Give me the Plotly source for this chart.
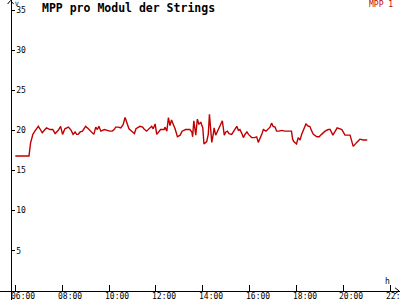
import plotly.graph_objects as go

# ---- data ----
series_name = "MPP 1"
title_text = "MPP pro Modul der Strings"
y_unit = "V"
x_unit = "h"
times = ["06:00","06:35","06:39","06:45","06:50","06:59","07:03","07:09","07:16","07:20",
         "07:29","07:36","07:42","07:50","07:56","08:01","08:07","08:16","08:23","08:28",
         "08:33","08:37","08:41","08:46","08:52","09:00","09:07","09:16","09:21","09:26",
         "09:30","09:34","09:39","09:48","09:54","10:02","10:08","10:13","10:17","10:24",
         "10:30","10:36","10:41","10:45","10:51","10:58","11:05","11:09","11:15","11:19",
         "11:26","11:29","11:36","11:42","11:49","11:53","11:58","12:02","12:08","12:12",
         "12:21","12:23","12:28","12:32","12:36","12:40","12:44","12:49","12:55","13:02",
         "13:07","13:16","13:27","13:32","13:34","13:37","13:42","13:46","13:50","13:55",
         "14:00","14:03","14:10","14:14","14:17","14:20","14:23","14:27","14:29","14:33",
         "14:37","14:41","14:46","14:50","14:55","14:59","15:03","15:07","15:14","15:20",
         "15:27","15:31","15:35","15:40","15:44","15:48","15:53","15:57","16:05","16:12",
         "16:18","16:22","16:26","16:31","16:35","16:42","16:52","16:56","17:00","17:05",
         "17:09","17:15","17:22","17:30","17:47","17:50","17:53","18:00","18:04","18:09",
         "18:13","18:19","18:24","18:30","18:34","18:39","18:43","18:52","18:58","19:04",
         "19:13","19:21","19:26","19:33","19:44","19:56","20:04","20:17","20:25","20:34",
         "20:42","20:51","21:01"]
mpp1 = [16.8,16.8,18.4,19.5,19.9,20.5,20.2,19.7,20.1,20.3,
        20.1,20.1,19.6,20.0,20.5,19.5,20.2,20.4,20.0,19.5,
        19.8,19.5,19.5,19.8,19.9,20.5,20.2,19.8,19.5,20.4,
        20.1,20.5,19.9,20.1,20.0,19.9,19.9,20.1,20.4,20.4,
        20.3,20.7,21.6,21.0,20.2,19.9,19.6,20.2,20.4,20.5,
        20.4,20.2,19.9,20.2,20.5,20.2,20.8,19.5,19.9,20.1,
        20.1,20.4,19.9,21.6,20.6,21.3,20.8,20.2,19.2,19.4,
        19.9,20.1,20.1,19.8,19.2,21.2,19.4,21.4,20.8,21.0,
        20.3,18.3,18.6,19.5,22.0,19.8,18.5,19.6,20.3,19.4,
        19.8,20.4,20.8,21.2,19.4,19.8,19.9,19.6,19.5,19.9,
        20.5,20.0,20.1,19.6,19.1,19.5,19.8,19.5,19.1,19.1,
        19.2,18.5,18.9,19.5,20.1,19.9,20.4,20.9,20.5,20.4,
        19.9,19.9,20.0,19.9,19.9,18.9,18.6,18.3,19.1,18.8,
        19.5,20.3,20.8,20.5,20.5,19.9,19.5,19.2,19.2,19.5,
        19.9,20.1,20.1,19.4,20.3,20.1,19.4,19.4,18.0,18.5,
        18.9,18.8,18.8]
x_ticks = [6, 8, 10, 12, 14, 16, 18, 20, 22]
x_tick_labels = ["06:00","08:00","10:00","12:00","14:00","16:00","18:00","20:00","22:00"]
y_ticks = [5, 10, 15, 20, 25, 30, 35]

def to_hours(t):
    h, m = t.split(":")
    return int(h) + int(m) / 60.0

xs = [to_hours(t) for t in times]

W, H = 400, 300
X_RANGE = [5.347, 22.414]
Y_RANGE = [-1.147, 36.25]
RED = "#c00000"
MONO = "DejaVu Sans Mono"

fig = go.Figure()
fig.add_trace(go.Scatter(x=xs, y=mpp1, mode="lines", name=series_name,
                         line=dict(color=RED, width=1.4), showlegend=False))

# axis positions in paper coords
yaxis_pos = (5.8 - X_RANGE[0]) / (X_RANGE[1] - X_RANGE[0])  # vertical axis at 5.8 h
xaxis_pos = (0 - Y_RANGE[0]) / (Y_RANGE[1] - Y_RANGE[0])

fig.update_layout(
    width=W, height=H, autosize=False,
    margin=dict(l=0, r=0, t=0, b=0, pad=0, autoexpand=False),
    paper_bgcolor="white", plot_bgcolor="white",
    xaxis=dict(range=X_RANGE, showgrid=False, zeroline=False, automargin=False,
               anchor="free", position=xaxis_pos,
               showline=True, linecolor="black", linewidth=1,
               tickmode="array", tickvals=x_ticks, showticklabels=False,
               ticks="inside", ticklen=6, tickcolor="black", tickwidth=1),
    yaxis=dict(range=Y_RANGE, showgrid=False, zeroline=False, automargin=False,
               anchor="free", position=yaxis_pos, side="right",
               showline=True, linecolor="black", linewidth=1,
               tickmode="array", tickvals=y_ticks,
               ticks="outside", ticklen=3, tickcolor="black", tickwidth=1,
               ticklabelstandoff=0, ticklabeloverflow="allow",
               tickfont=dict(family=MONO, size=8, color="black")),
)

# x tick labels (left-aligned just after each tick, below the axis)
for tv, tl in zip(x_ticks, x_tick_labels):
    fig.add_annotation(text=tl, x=tv, xref="x", xanchor="left", xshift=-5,
                       y=1 - 296 / H, yref="paper", yanchor="middle",
                       showarrow=False, borderpad=0,
                       font=dict(family=MONO, size=8, color="black"))

# arrows at axis ends (decoration)
ax_px = yaxis_pos * W
ay_px = H - xaxis_pos * H
def px2paper(px, py):
    return px / W, 1 - py / H
x0, y0 = px2paper(ax_px - 3, 4)
x1, y1 = px2paper(ax_px, 0.5)
x2, y2 = px2paper(ax_px + 3, 4)
fig.add_shape(type="path", xref="paper", yref="paper",
              path=f"M {x0} {y0} L {x1} {y1} L {x2} {y2}",
              line=dict(color="black", width=1))
x0, y0 = px2paper(395, ay_px - 3)
x1, y1 = px2paper(399, ay_px)
x2, y2 = px2paper(395, ay_px + 3)
fig.add_shape(type="path", xref="paper", yref="paper",
              path=f"M {x0} {y0} L {x1} {y1} L {x2} {y2}",
              line=dict(color="black", width=1))

# title
fig.add_annotation(text=f"<b>{title_text}</b>", xref="paper", yref="paper",
                   x=40 / W, y=1 - 7.5 / H, xanchor="left", yanchor="middle",
                   showarrow=False, font=dict(family=MONO, size=11.5, color="black"))
# legend text
fig.add_annotation(text=series_name, xref="paper", yref="paper",
                   x=395 / W, y=1 - 4.5 / H, xanchor="right", yanchor="middle",
                   showarrow=False, font=dict(family=MONO, size=8, color=RED))
# units
fig.add_annotation(text=y_unit, xref="paper", yref="paper",
                   x=(ax_px + 2) / W, y=1 - 3.5 / H, xanchor="left", yanchor="middle",
                   showarrow=False, font=dict(family=MONO, size=6, color="black"))
fig.add_annotation(text=x_unit, xref="paper", yref="paper",
                   x=387 / W, y=1 - 281.5 / H, xanchor="center", yanchor="middle",
                   showarrow=False, font=dict(family=MONO, size=8, color="black"))

fig.write_html("out.html")
